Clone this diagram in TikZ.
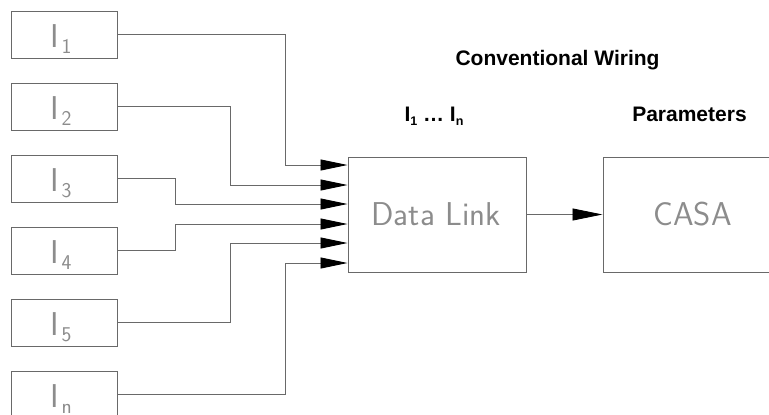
\documentclass[tikz,border=0pt]{standalone}
\usepackage{fontspec}
\setmainfont{Liberation Sans}
\usetikzlibrary{arrows.meta,calc}
\definecolor{lin}{RGB}{105,105,105}
\definecolor{txt}{RGB}{140,140,140}
\newcommand\inlab[1]{{\fontsize{33}{33}\selectfont I}\kern3pt\raisebox{-6pt}{\fontsize{21}{21}\selectfont #1}}
\newcommand\bsub[1]{\raisebox{-4pt}{\fontsize{12.5}{12.5}\selectfont #1}}
\begin{document}
\begin{tikzpicture}[x=1pt,y=-1pt,
  inbox/.style={draw=lin,line width=1pt,minimum width=106pt,minimum height=47pt,inner sep=0pt},
  bigbox/.style={draw=lin,line width=1pt,minimum height=115pt,inner sep=0pt},
  lab/.style={anchor=base west,inner sep=0pt,text=txt,font=\sffamily},
  biglab/.style={anchor=base,inner sep=0pt,text=txt,font=\sffamily\fontsize{33}{33}\selectfont},
  head/.style={anchor=base,inner sep=0pt,font=\bfseries\fontsize{21}{21}\selectfont},
  conn/.style={draw=lin,line width=0.9pt,-{Triangle[length=27pt,width=11pt,color=black]}},
  conn2/.style={draw=lin,line width=0.9pt,-{Triangle[length=30pt,width=12pt,color=black]}}]
\useasboundingbox (0,0) rectangle (769,415);
% input boxes
\node[inbox] (i1) at (64,34.5) {};
\node[inbox] (i2) at (64,106.5) {};
\node[inbox] (i3) at (64,178.5) {};
\node[inbox] (i4) at (64,250.5) {};
\node[inbox] (i5) at (64,322.5) {};
\node[inbox] (in) at (64,394.5) {};
\node[lab] (l1) at (50,47) {\inlab{1}};
\node[lab] (l2) at (50,119) {\inlab{2}};
\node[lab] (l3) at (50,191) {\inlab{3}};
\node[lab] (l4) at (50,263) {\inlab{4}};
\node[lab] (l5) at (50,335) {\inlab{5}};
\node[lab] (ln) at (50,407) {\inlab{n}};
% main boxes
\node[bigbox,minimum width=178pt] (dl) at (437,214.5) {};
\node[bigbox,minimum width=187pt] (casa) at (696.5,214.5) {};
\node[biglab] (dlt) at (436,225) {\addfontfeature{LetterSpace=3}Data Link};
\node[biglab] (cat) at (692.5,225) {CASA};
% headings
\node[head] (cw) at (557.5,65) {Conventional Wiring};
\node[head] (ii) at (434,121) {I\bsub{1} \dots\ I\bsub{n}};
\node[head] (pa) at (689.5,121) {Parameters};
% connectors
\draw[conn] (i1.east) -- ++(168,0) |- ($(dl.west)+(0,-49.5)$);
\draw[conn] (i2.east) -- ++(113,0) |- ($(dl.west)+(0,-29.5)$);
\draw[conn] (i3.east) -- ++(58,0) |- ($(dl.west)+(0,-10.5)$);
\draw[conn] (i4.east) -- ++(58,0) |- ($(dl.west)+(0,9.5)$);
\draw[conn] (i5.east) -- ++(113,0) |- ($(dl.west)+(0,28.5)$);
\draw[conn] (in.east) -- ++(168,0) |- ($(dl.west)+(0,48.5)$);
\draw[conn2] (dl.east) -- (casa.west);
\end{tikzpicture}
\end{document}
